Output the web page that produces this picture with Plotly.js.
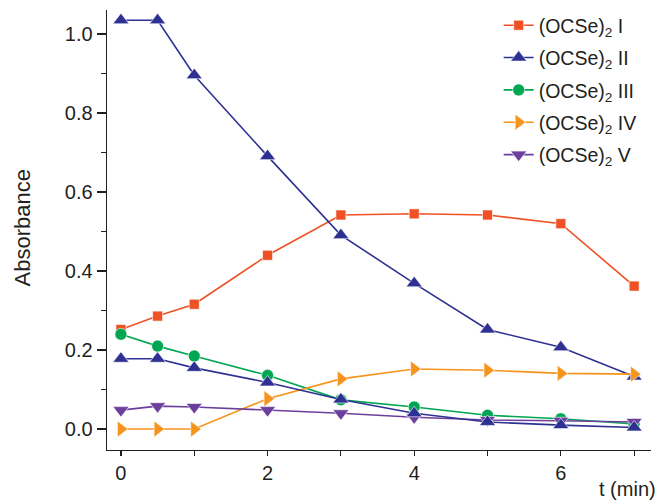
<!DOCTYPE html>
<html>
<head>
<meta charset="utf-8">
<script src="https://cdn.plot.ly/plotly-3.0.1.min.js"></script>
<style>
  html, body { margin: 0; padding: 0; background: #fff; }
  #chart { width: 662px; height: 502px; }
</style>
</head>
<body>
<div id="chart"></div>
<script>
// Time points (min)
const tMin = [0, 0.5, 1, 2, 3, 4, 5, 6, 7];

// Absorbance of each species
const absI   = [0.252, 0.286, 0.316, 0.440, 0.542, 0.545, 0.542, 0.520, 0.362];
const absII  = [1.035, 1.035, 0.896, 0.691, 0.491, 0.369, 0.252, 0.207, 0.133];
const absIIb = [0.178, 0.178, 0.155, 0.118, 0.075, 0.040, 0.018, 0.010, 0.004];
const absIII = [0.240, 0.210, 0.185, 0.136, 0.074, 0.056, 0.035, 0.026, 0.013];
const absIV  = [0.000, 0.000, 0.000, 0.077, 0.127, 0.152, 0.149, 0.141, 0.139];
const absV   = [0.048, 0.058, 0.056, 0.048, 0.040, 0.030, 0.023, 0.021, 0.018];

const names = ["(OCSe)<sub>2</sub> I", "(OCSe)<sub>2</sub> II", "(OCSe)<sub>2</sub> III",
               "(OCSe)<sub>2</sub> IV", "(OCSe)<sub>2</sub> V"];

const colors = { I: "#EF5124", II: "#2E3192", III: "#00A651", IV: "#F7941D", V: "#6D3F9C" };

function series(y, name, group, color, symbol, size, showlegend) {
  return {
    x: tMin, y: y, name: name, type: "scatter", mode: "lines+markers",
    legendgroup: group,
    line: { color: color, width: 1.6 },
    marker: { symbol: symbol, size: size, color: color, line: { color: "#ffffff", width: 0.6 } },
    showlegend: showlegend
  };
}

const data = [
  series(absI,   names[0], "I",   colors.I,   "square",         10, true),
  series(absII,  names[1], "II",  colors.II,  "triangle-up",    14, true),
  series(absIII, names[2], "III", colors.III, "circle",         12, true),
  series(absIV,  names[3], "IV",  colors.IV,  "triangle-right", 14, true),
  series(absV,   names[4], "V",   colors.V,   "triangle-down",  14, true),
  series(absIIb, names[1], "II",  colors.II,  "triangle-up",    14, false)
];

const fam = "Liberation Sans, Arial, sans-serif";
const ink = "#231F20";

const layout = {
  width: 662, height: 502,
  margin: { l: 107, r: 11, t: 10, b: 52, autoexpand: false },
  paper_bgcolor: "#ffffff", plot_bgcolor: "#ffffff",
  font: { family: fam, size: 20, color: ink },
  showlegend: true,
  legend: {
    x: 0.72, y: 1.009, xanchor: "left", yanchor: "top",
    bgcolor: "rgba(0,0,0,0)", font: { family: fam, size: 19.5, color: ink },
    tracegroupgap: 4, itemwidth: 30
  },
  xaxis: {
    range: [-0.19, 7.23],
    tickmode: "array", tickvals: [0, 1, 2, 3, 4, 5, 6, 7], ticktext: ["0", "", "2", "", "4", "", "6", ""],
    ticks: "outside", ticklen: 5, tickwidth: 1.2, tickcolor: ink,
    showline: true, linecolor: ink, linewidth: 1.4,
    showgrid: false, zeroline: false,
    tickfont: { family: fam, size: 20, color: ink }
  },
  yaxis: {
    range: [-0.053, 1.061],
    tickmode: "array", tickvals: [0, 0.2, 0.4, 0.6, 0.8, 1.0], ticktext: ["0.0", "0.2", "0.4", "0.6", "0.8", "1.0"],
    ticks: "outside", ticklen: 9, tickwidth: 1.2, tickcolor: ink,
    minor: { tickvals: [0.1, 0.3, 0.5, 0.7, 0.9], ticks: "outside", ticklen: 5, tickwidth: 1.2, tickcolor: ink },
    showline: true, linecolor: ink, linewidth: 1.4,
    showgrid: false, zeroline: false,
    tickfont: { family: fam, size: 20, color: ink }
  },
  annotations: [
    { text: "Absorbance", xref: "paper", yref: "paper", x: -0.155, y: 0.505,
      xanchor: "center", yanchor: "middle", textangle: -90, showarrow: false,
      font: { family: fam, size: 22, color: ink } },
    { text: "t (min)", xref: "paper", yref: "paper", x: 1.013, y: -0.088,
      xanchor: "right", yanchor: "middle", showarrow: false,
      font: { family: fam, size: 20, color: ink } }
  ]
};

Plotly.newPlot("chart", data, layout, { displayModeBar: false, staticPlot: true });
</script>
</body>
</html>
